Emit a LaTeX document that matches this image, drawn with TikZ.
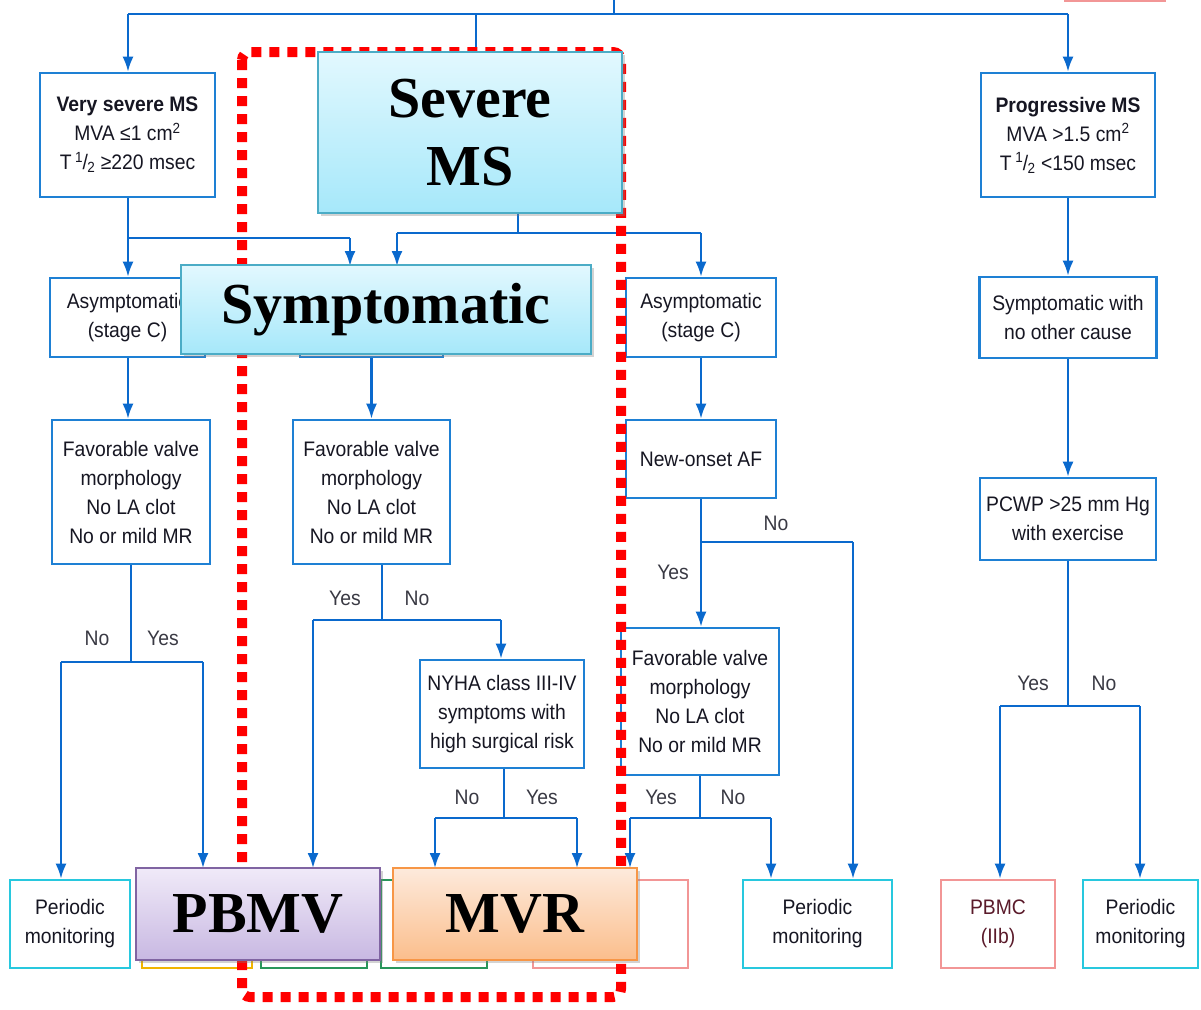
\documentclass[tikz,border=0pt]{standalone}
\usepackage{fontspec}
\setmainfont{Liberation Sans}
\newfontfamily\boxfont[FakeStretch=0.92]{Liberation Sans}
\newfontfamily\bigserif{Liberation Serif}
\usetikzlibrary{arrows.meta,shadows,calc}
\definecolor{boxblue}{RGB}{30,128,212}
\definecolor{lineblue}{RGB}{10,105,205}
\definecolor{txt}{RGB}{22,22,34}
\definecolor{cyanb}{RGB}{40,200,222}
\definecolor{pinkb}{RGB}{242,150,150}
\definecolor{orangeb}{RGB}{240,180,0}
\definecolor{greenb}{RGB}{40,150,90}
\definecolor{maroon}{RGB}{90,26,42}
\definecolor{sevtop}{RGB}{226,248,254}
\definecolor{sevbot}{RGB}{166,232,250}
\definecolor{sevdraw}{RGB}{75,172,198}
\definecolor{pbtop}{RGB}{240,234,248}
\definecolor{pbbot}{RGB}{200,184,226}
\definecolor{pbdraw}{RGB}{128,100,162}
\definecolor{mvtop}{RGB}{253,234,220}
\definecolor{mvbot}{RGB}{251,190,140}
\definecolor{mvdraw}{RGB}{247,150,70}
\begin{document}
\begin{tikzpicture}[x=1pt,y=-1pt,
  fbox/.style={draw=boxblue, line width=2.6pt, fill=white, inner sep=0pt, align=center,
    font=\boxfont\fontsize{21}{29}\selectfont, text=txt},
  obox/.style={fbox, draw=#1, minimum height=88pt},
  conn/.style={draw=lineblue, line width=2.2pt},
  arr/.style={conn, -{Latex[length=15pt,width=11pt]}},
  lbl/.style={font=\boxfont\fontsize{21}{24}\selectfont, text=txt!85, inner sep=0pt},
  over/.style={draw=#1, line width=2pt, inner sep=0pt, align=center,
    font=\bigserif\bfseries\fontsize{58}{68}\selectfont, text=black,
    drop shadow={shadow xshift=3pt, shadow yshift=-3pt, opacity=0.35}}
]
\useasboundingbox (0,0) rectangle (1201,1009);
\clip (0,0) rectangle (1201,1009);

% partial box at top right
\draw[pinkb, line width=2pt] (1065,-30) rectangle (1165,1);

% boxes
\node[fbox, minimum width=175pt, minimum height=124pt] (vsev) at (127.5,135)
  {\textbf{Very severe MS}\\MVA ≤1 cm\textsuperscript{2}\\T\,\textsuperscript{1}\kern-0.5pt/\kern-0.5pt\textsubscript{2} ≥220 msec};
\node[fbox, minimum width=174pt, minimum height=124pt] (prog) at (1068,135)
  {\textbf{Progressive MS}\\MVA >1.5 cm\textsuperscript{2}\\T\,\textsuperscript{1}\kern-0.5pt/\kern-0.5pt\textsubscript{2} <150 msec};
\node[fbox, minimum width=155pt, minimum height=79pt] (asymL) at (127.5,317.5) {Asymptomatic\\(stage C)};
\node[fbox, minimum width=143pt, minimum height=79pt] (sympD) at (371.5,317.5) {};
\node[fbox, minimum width=150pt, minimum height=79pt] (asymR) at (701,317.5) {Asymptomatic\\(stage C)};
\node[fbox, minimum width=177pt, minimum height=81pt] (symNo) at (1068,317.5) {Symptomatic with\\no other cause};
\node[fbox, minimum width=158pt, minimum height=144pt] (favL) at (131,492) {Favorable valve\\morphology\\No LA clot\\No or mild MR};
\node[fbox, minimum width=157pt, minimum height=144pt] (favM) at (371.5,492) {Favorable valve\\morphology\\No LA clot\\No or mild MR};
\node[fbox, minimum width=150pt, minimum height=78pt] (newAF) at (701,459) {New-onset AF};
\node[fbox, minimum width=176pt, minimum height=82pt] (pcwp) at (1068,519) {PCWP >25 mm Hg\\with exercise};
\node[fbox, minimum width=164pt, minimum height=108pt] (nyha) at (502,714) {NYHA class III-IV\\symptoms with\\high surgical risk};
\node[fbox, minimum width=158pt, minimum height=147pt] (favR) at (700,701.5) {Favorable valve\\morphology\\No LA clot\\No or mild MR};

% bottom boxes
\node[obox=cyanb, minimum width=120pt] (pmL) at (70,924) {Periodic\\monitoring};
\node[obox=orangeb, minimum width=110pt] (orB) at (197,924) {};
\node[obox=greenb, minimum width=106pt] (grB1) at (314,924) {};
\node[obox=greenb, minimum width=106pt] (grB2) at (434,924) {};
\node[obox=pinkb, minimum width=155pt] (pkB) at (610.5,924) {};
\node[obox=cyanb, minimum width=149pt] (pmM) at (817.5,924) {Periodic\\monitoring};
\node[obox=pinkb, minimum width=114pt, text=maroon] (pbmc) at (998,924) {PBMC\\(IIb)};
\node[obox=cyanb, minimum width=115pt] (pmR) at (1140.5,924) {Periodic\\monitoring};

% top connectors
\coordinate (t0) at (614,0);
\coordinate (t1) at (614,14);
\coordinate (tL) at (128,14);
\coordinate (tM) at (476,14);
\coordinate (tR) at (1068,14);
\draw[conn] (t0) -- (t1);
\draw[conn] (tL) -- (tR);
\draw[arr] (tL) -- (vsev.north -| tL);
\draw[conn] (tM) -- (476,52);
\draw[arr] (tR) -- (prog.north);

% overlay targets
\coordinate (j1) at (128,238);
\coordinate (j2) at (350,238);
\coordinate (j3) at (518,233);
\coordinate (j4) at (397,233);
\coordinate (j5) at (701,233);
\draw[conn] (vsev.south -| j1) -- (j1) -- (j2);
\draw[arr] (j1) -- (asymL.north -| j1);
\draw[arr] (j2) -- (350,266);
\draw[conn] (518,213) -- (j3);
\draw[conn] (j4) -- (j5);
\draw[arr] (j4) -- (397,266);
\draw[arr] (j5) -- (asymR.north);

\draw[arr] (asymL.south -| j1) -- (favL.north -| j1);
\draw[arr] (sympD) -- (favM);
\draw[arr] (asymR) -- (newAF);
\draw[arr] (prog) -- (symNo);
\draw[arr] (symNo) -- (pcwp);

% left favourable split
\coordinate (s1) at (131,662);
\coordinate (s1a) at (61,662);
\coordinate (s1b) at (203,662);
\draw[conn] (favL.south) -- (s1);
\draw[conn] (s1a) -- (s1b);
\draw[arr] (s1a) -- (pmL.north -| s1a);
\draw[arr] (s1b) -- (203,868);
\node[lbl] (n1) at (97,638) {No};
\node[lbl] (y1) at (163,638) {Yes};

% middle favourable split
\coordinate (s2) at (382,620);
\coordinate (s2a) at (313,620);
\coordinate (s2b) at (501,620);
\draw[conn] (favM.south -| s2) -- (s2);
\draw[conn] (s2a) -- (s2b);
\draw[arr] (s2a) -- (313,868);
\draw[arr] (s2b) -- (nyha.north -| s2b);
\node[lbl] (y2) at (345,598) {Yes};
\node[lbl] (n2) at (417,598) {No};

% NYHA split
\coordinate (s3) at (504,818);
\coordinate (s3a) at (435,818);
\coordinate (s3b) at (577,818);
\draw[conn] (nyha.south -| s3) -- (s3);
\draw[conn] (s3a) -- (s3b);
\draw[arr] (s3a) -- (435,868);
\draw[arr] (s3b) -- (577,868);
\node[lbl] (n3) at (467,797) {No};
\node[lbl] (y3) at (542,797) {Yes};

% new-onset AF split
\coordinate (s4) at (701,542);
\coordinate (s4b) at (853,542);
\draw[conn] (newAF.south) -- (s4) -- (s4b);
\draw[arr] (s4) -- (favR.north -| s4);
\draw[arr] (s4b) -- (pmM.north -| s4b);
\node[lbl] (n4) at (776,523) {No};
\node[lbl] (y4) at (673,572) {Yes};

% right favourable split
\coordinate (s5) at (700,818);
\coordinate (s5a) at (630,818);
\coordinate (s5b) at (771,818);
\draw[conn] (favR.south) -- (s5);
\draw[conn] (s5a) -- (s5b);
\draw[arr] (s5a) -- (630,868);
\draw[arr] (s5b) -- (pmM.north -| s5b);
\node[lbl] (y5) at (661,797) {Yes};
\node[lbl] (n5) at (733,797) {No};

% PCWP split
\coordinate (s6) at (1068,706);
\coordinate (s6a) at (1000,706);
\coordinate (s6b) at (1140,706);
\draw[conn] (pcwp.south) -- (s6);
\draw[conn] (s6a) -- (s6b);
\draw[arr] (s6a) -- (pbmc.north -| s6a);
\draw[arr] (s6b) -- (pmR.north -| s6b);
\node[lbl] (y6) at (1033,683) {Yes};
\node[lbl] (n6) at (1104,683) {No};

% red dashed frame
\draw[red, line width=10pt, dash pattern=on 10pt off 8pt, rounded corners=8pt]
  (242,52) rectangle (621,997);

% overlays
\node[over=sevdraw, top color=sevtop, bottom color=sevbot, minimum width=304pt, minimum height=161pt]
  (sevMS) at (470,132.5) {Severe\\MS};
\node[over=sevdraw, top color=sevtop, bottom color=sevbot, minimum width=410pt, minimum height=89pt]
  (sympO) at (386,309.5) {Symptomatic};
\node[over=pbdraw, top color=pbtop, bottom color=pbbot, minimum width=244pt, minimum height=92pt]
  (pbmv) at (258,914) {PBMV};
\node[over=mvdraw, top color=mvtop, bottom color=mvbot, minimum width=244pt, minimum height=92pt]
  (mvr) at (515,914) {MVR};
\end{tikzpicture}
\end{document}
